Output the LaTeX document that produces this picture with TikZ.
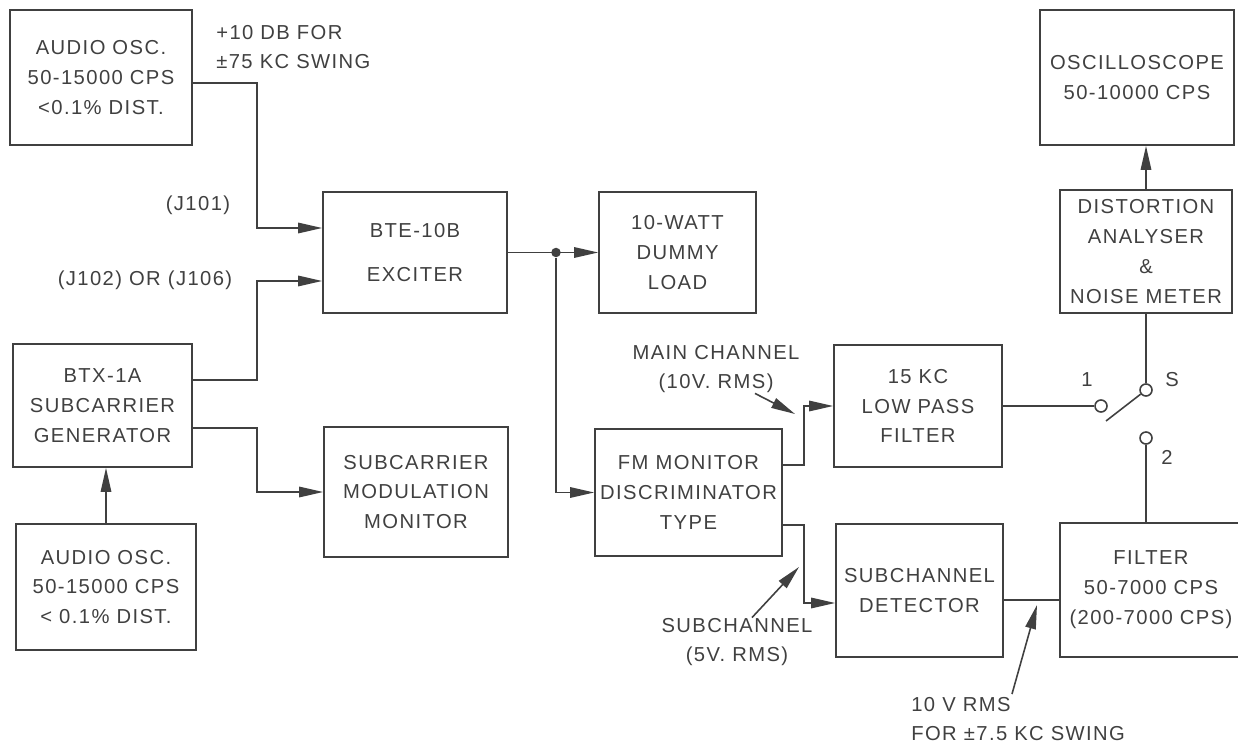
\documentclass[tikz,border=0pt]{standalone}
\usepackage{fontspec}
\setmainfont{Liberation Sans}[LetterSpace=7]
\usetikzlibrary{arrows.meta}
\definecolor{ink}{HTML}{404040}
\newcommand{\boxfont}{\fontsize{11.5}{17}\selectfont}
\tikzset{
  blk/.style={rectangle,draw=ink,line width=1pt,align=center,inner sep=0pt,text=ink,font=\boxfont},
  lbl/.style={text=ink,inner sep=0pt,font=\boxfont},
  line/.style={draw=ink,line width=0.9pt,-{Triangle[length=4.8mm,width=2.1mm]}},
  wire/.style={draw=ink,line width=0.9pt},
  contact/.style={circle,draw=ink,line width=0.9pt,minimum size=2.4mm,inner sep=0pt},
  dot/.style={circle,fill=ink,minimum size=1.9mm,inner sep=0pt}
}

\begin{document}
\begin{tikzpicture}[x=0.02cm,y=-0.02cm]
\useasboundingbox (0,0) rectangle (1238,743);
% blocks
\node[blk, minimum width=3.64cm, minimum height=2.7cm] (osca) at (101,77.5) {AUDIO OSC.\\50-15000 CPS\\<0.1\% DIST.};
\node[blk, minimum width=3.68cm, minimum height=2.42cm] (bte) at (415,252.5) {BTE-10B\\[8pt]EXCITER};
\node[blk, minimum width=3.14cm, minimum height=2.42cm] (dummy) at (677.5,252.5) {10-WATT\\DUMMY\\LOAD};
\node[blk, minimum width=3.58cm, minimum height=2.46cm] (btx) at (102.5,405.5) {BTX-1A\\SUBCARRIER\\GENERATOR};
\node[blk, minimum width=3.68cm, minimum height=2.6cm] (submon) at (416,492) {SUBCARRIER\\MODULATION\\MONITOR};
\node[blk, minimum width=3.6cm, minimum height=2.52cm] (oscb) at (106,587) {AUDIO OSC.\\50-15000 CPS\\< 0.1\% DIST.};
\node[blk, minimum width=3.74cm, minimum height=2.54cm] (fm) at (688.5,492.5) {FM MONITOR\\DISCRIMINATOR\\TYPE};
\node[blk, minimum width=3.36cm, minimum height=2.44cm] (lpf) at (918,406) {15 KC\\LOW PASS\\FILTER};
\node[blk, minimum width=3.34cm, minimum height=2.66cm] (det) at (919.5,590.5) {SUBCHANNEL\\DETECTOR};
\node[blk, minimum width=3.64cm, minimum height=2.68cm] (filt) at (1151,590) {FILTER\\50-7000 CPS\\(200-7000 CPS)};
\node[blk, minimum width=3.44cm, minimum height=2.46cm] (dist) at (1146,251.5) {DISTORTION\\ANALYSER\\\&\\NOISE METER};
\node[blk, minimum width=3.88cm, minimum height=2.7cm] (scope) at (1137,77.5) {OSCILLOSCOPE\\50-10000 CPS};
% switch
\node[contact] (c1) at (1101,406) {};
\node[contact] (cs) at (1146,390) {};
\node[contact] (c2) at (1146,438) {};
\coordinate (blade) at (1106,421);
\node[dot] (jn) at (556,252.5) {};
% labels
\node[lbl, anchor=west, align=left] (swing) at (216,47) {+10 DB FOR\\±75 KC SWING};
\node[lbl] (j101) at (198,205) {(J101)};
\node[lbl] (j102) at (145,280) {(J102) OR (J106)};
\node[lbl, align=center] (mainlbl) at (716,369) {MAIN CHANNEL\\(10V. RMS)};
\node[lbl, align=center] (subl) at (737,642) {SUBCHANNEL\\(5V. RMS)};
\node[lbl, anchor=west, align=left] (rmsl) at (911,719) {10 V RMS\\FOR ±7.5 KC SWING};
\node[lbl] (n1) at (1087,380) {1};
\node[lbl] (ns) at (1172,380) {S};
\node[lbl] (n2) at (1167,457) {2};
\coordinate (mc) at (795,414);
\coordinate (sc) at (799,567);
\coordinate (rc) at (1037,605);
% connectors
\draw[line] ([yshift=-0.11cm]osca.east) -- ++(64,0) |- ([yshift=0.49cm]bte.west);
\draw[line] ([yshift=0.51cm]btx.east) -- ++(64,0) |- ([yshift=-0.57cm]bte.west);
\draw[line] ([yshift=-0.45cm]btx.east) -- ++(64,0) |- (submon.west);
\draw[line] (oscb.north) -- (oscb.north |- btx.south);
\draw[line] (bte.east) -- (dummy.west);
\draw[line] (jn) |- (fm.west);
\draw[line] ([yshift=0.55cm]fm.east) -- ++(21,0) |- (lpf.west);
\draw[line] ([yshift=-0.65cm]fm.east) -- ++(21,0) |- ([yshift=-0.25cm]det.west);
\draw[wire] ([yshift=-0.19cm]det.east) -- ([yshift=-0.19cm]det.east -| filt.west);
\draw[wire] (lpf.east) -- (c1);
\draw[wire] (blade) -- (cs);
\draw[wire] (cs) -- (cs |- dist.south);
\draw[wire] (c2) -- (c2 |- filt.north);
\draw[line] (dist.north) -- (dist.north |- scope.south);
\draw[line] ([xshift=0.78cm]mainlbl.south) -- (mc);
\draw[line] ([xshift=0.3cm]subl.north) -- (sc);
\draw[line] ([xshift=2.02cm,yshift=0.05cm]rmsl.north west) -- (rc);
\end{tikzpicture}
\end{document}
